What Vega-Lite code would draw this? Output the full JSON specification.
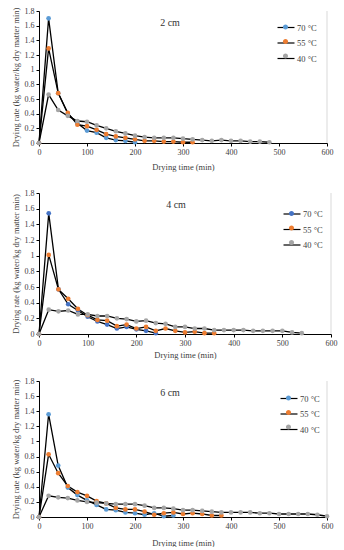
{
  "$schema": "https://vega.github.io/schema/vega-lite/v6.json",
  "padding": {"left": 10, "top": 7, "right": 5, "bottom": 0},
  "background": "white",
  "spacing": 18,
  "config": {
    "font": "Liberation Serif",
    "view": {"stroke": null},
    "axis": {
      "grid": false, "domainColor": "#000000", "tickColor": "#000000", "tickSize": 3,
      "labelFont": "Liberation Serif", "titleFont": "Liberation Serif",
      "labelFontSize": 8, "titleFontSize": 8.5, "labelColor": "#404040", "titleColor": "#404040",
      "titleFontWeight": "normal", "labelPadding": 2, "labelOverlap": false, "labelFlush": false
    },
    "axisY": {"tickCount": 10, "labelOverlap": false},
    "legend": {
      "orient": "none", "title": null, "padding": 0,
      "labelFont": "Liberation Serif", "labelFontSize": 8.5, "labelColor": "#404040",
      "symbolSize": 72, "labelOffset": 6, "rowPadding": 5.5,
      "symbolOpacity": 1
    },
    "title": {"font": "Liberation Serif", "fontSize": 10, "fontWeight": "normal", "color": "#333333", "frame": "group"}
  },
  "datasets": {
    "d": [
      {"p":"2 cm","s":"70 °C","t":0,"r":0},{"p":"2 cm","s":"70 °C","t":20,"r":1.70},{"p":"2 cm","s":"70 °C","t":40,"r":0.68},{"p":"2 cm","s":"70 °C","t":60,"r":0.40},{"p":"2 cm","s":"70 °C","t":80,"r":0.27},{"p":"2 cm","s":"70 °C","t":100,"r":0.17},{"p":"2 cm","s":"70 °C","t":120,"r":0.14},{"p":"2 cm","s":"70 °C","t":140,"r":0.07},{"p":"2 cm","s":"70 °C","t":160,"r":0.04},{"p":"2 cm","s":"70 °C","t":180,"r":0.03},{"p":"2 cm","s":"70 °C","t":200,"r":0.01},
      {"p":"2 cm","s":"55 °C","t":0,"r":0},{"p":"2 cm","s":"55 °C","t":20,"r":1.29},{"p":"2 cm","s":"55 °C","t":40,"r":0.68},{"p":"2 cm","s":"55 °C","t":60,"r":0.41},{"p":"2 cm","s":"55 °C","t":80,"r":0.25},{"p":"2 cm","s":"55 °C","t":100,"r":0.23},{"p":"2 cm","s":"55 °C","t":120,"r":0.18},{"p":"2 cm","s":"55 °C","t":140,"r":0.12},{"p":"2 cm","s":"55 °C","t":160,"r":0.09},{"p":"2 cm","s":"55 °C","t":180,"r":0.07},{"p":"2 cm","s":"55 °C","t":200,"r":0.05},{"p":"2 cm","s":"55 °C","t":220,"r":0.03},{"p":"2 cm","s":"55 °C","t":240,"r":0.03},{"p":"2 cm","s":"55 °C","t":260,"r":0.02},{"p":"2 cm","s":"55 °C","t":280,"r":0.02},{"p":"2 cm","s":"55 °C","t":300,"r":0.01},{"p":"2 cm","s":"55 °C","t":320,"r":0.01},
      {"p":"2 cm","s":"40 °C","t":0,"r":0},{"p":"2 cm","s":"40 °C","t":20,"r":0.66},{"p":"2 cm","s":"40 °C","t":40,"r":0.45},{"p":"2 cm","s":"40 °C","t":60,"r":0.37},{"p":"2 cm","s":"40 °C","t":80,"r":0.30},{"p":"2 cm","s":"40 °C","t":100,"r":0.29},{"p":"2 cm","s":"40 °C","t":120,"r":0.24},{"p":"2 cm","s":"40 °C","t":140,"r":0.20},{"p":"2 cm","s":"40 °C","t":160,"r":0.16},{"p":"2 cm","s":"40 °C","t":180,"r":0.13},{"p":"2 cm","s":"40 °C","t":200,"r":0.10},{"p":"2 cm","s":"40 °C","t":220,"r":0.08},{"p":"2 cm","s":"40 °C","t":240,"r":0.07},{"p":"2 cm","s":"40 °C","t":260,"r":0.07},{"p":"2 cm","s":"40 °C","t":280,"r":0.07},{"p":"2 cm","s":"40 °C","t":300,"r":0.06},{"p":"2 cm","s":"40 °C","t":320,"r":0.05},{"p":"2 cm","s":"40 °C","t":340,"r":0.04},{"p":"2 cm","s":"40 °C","t":360,"r":0.03},{"p":"2 cm","s":"40 °C","t":380,"r":0.04},{"p":"2 cm","s":"40 °C","t":400,"r":0.03},{"p":"2 cm","s":"40 °C","t":420,"r":0.03},{"p":"2 cm","s":"40 °C","t":440,"r":0.02},{"p":"2 cm","s":"40 °C","t":460,"r":0.02},{"p":"2 cm","s":"40 °C","t":480,"r":0.01},

      {"p":"4 cm","s":"70 °C","t":0,"r":0},{"p":"4 cm","s":"70 °C","t":20,"r":1.54},{"p":"4 cm","s":"70 °C","t":40,"r":0.57},{"p":"4 cm","s":"70 °C","t":60,"r":0.38},{"p":"4 cm","s":"70 °C","t":80,"r":0.30},{"p":"4 cm","s":"70 °C","t":100,"r":0.22},{"p":"4 cm","s":"70 °C","t":120,"r":0.16},{"p":"4 cm","s":"70 °C","t":140,"r":0.12},{"p":"4 cm","s":"70 °C","t":160,"r":0.07},{"p":"4 cm","s":"70 °C","t":180,"r":0.09},{"p":"4 cm","s":"70 °C","t":200,"r":0.06},{"p":"4 cm","s":"70 °C","t":220,"r":0.04},{"p":"4 cm","s":"70 °C","t":240,"r":0.01},
      {"p":"4 cm","s":"55 °C","t":0,"r":0},{"p":"4 cm","s":"55 °C","t":20,"r":1.01},{"p":"4 cm","s":"55 °C","t":40,"r":0.57},{"p":"4 cm","s":"55 °C","t":60,"r":0.45},{"p":"4 cm","s":"55 °C","t":80,"r":0.32},{"p":"4 cm","s":"55 °C","t":100,"r":0.24},{"p":"4 cm","s":"55 °C","t":120,"r":0.18},{"p":"4 cm","s":"55 °C","t":140,"r":0.17},{"p":"4 cm","s":"55 °C","t":160,"r":0.10},{"p":"4 cm","s":"55 °C","t":180,"r":0.12},{"p":"4 cm","s":"55 °C","t":200,"r":0.07},{"p":"4 cm","s":"55 °C","t":220,"r":0.09},{"p":"4 cm","s":"55 °C","t":240,"r":0.04},{"p":"4 cm","s":"55 °C","t":260,"r":0.07},{"p":"4 cm","s":"55 °C","t":280,"r":0.04},{"p":"4 cm","s":"55 °C","t":300,"r":0.02},{"p":"4 cm","s":"55 °C","t":320,"r":0.03},{"p":"4 cm","s":"55 °C","t":340,"r":0.01},{"p":"4 cm","s":"55 °C","t":360,"r":0.01},
      {"p":"4 cm","s":"40 °C","t":0,"r":0},{"p":"4 cm","s":"40 °C","t":20,"r":0.31},{"p":"4 cm","s":"40 °C","t":40,"r":0.29},{"p":"4 cm","s":"40 °C","t":60,"r":0.30},{"p":"4 cm","s":"40 °C","t":80,"r":0.25},{"p":"4 cm","s":"40 °C","t":100,"r":0.25},{"p":"4 cm","s":"40 °C","t":120,"r":0.23},{"p":"4 cm","s":"40 °C","t":140,"r":0.23},{"p":"4 cm","s":"40 °C","t":160,"r":0.20},{"p":"4 cm","s":"40 °C","t":180,"r":0.19},{"p":"4 cm","s":"40 °C","t":200,"r":0.16},{"p":"4 cm","s":"40 °C","t":220,"r":0.17},{"p":"4 cm","s":"40 °C","t":240,"r":0.14},{"p":"4 cm","s":"40 °C","t":260,"r":0.13},{"p":"4 cm","s":"40 °C","t":280,"r":0.09},{"p":"4 cm","s":"40 °C","t":300,"r":0.09},{"p":"4 cm","s":"40 °C","t":320,"r":0.07},{"p":"4 cm","s":"40 °C","t":340,"r":0.07},{"p":"4 cm","s":"40 °C","t":360,"r":0.05},{"p":"4 cm","s":"40 °C","t":380,"r":0.05},{"p":"4 cm","s":"40 °C","t":400,"r":0.05},{"p":"4 cm","s":"40 °C","t":420,"r":0.05},{"p":"4 cm","s":"40 °C","t":440,"r":0.04},{"p":"4 cm","s":"40 °C","t":460,"r":0.04},{"p":"4 cm","s":"40 °C","t":480,"r":0.04},{"p":"4 cm","s":"40 °C","t":500,"r":0.04},{"p":"4 cm","s":"40 °C","t":520,"r":0.02},{"p":"4 cm","s":"40 °C","t":540,"r":0.01},

      {"p":"6 cm","s":"70 °C","t":0,"r":0},{"p":"6 cm","s":"70 °C","t":20,"r":1.36},{"p":"6 cm","s":"70 °C","t":40,"r":0.68},{"p":"6 cm","s":"70 °C","t":60,"r":0.39},{"p":"6 cm","s":"70 °C","t":80,"r":0.29},{"p":"6 cm","s":"70 °C","t":100,"r":0.22},{"p":"6 cm","s":"70 °C","t":120,"r":0.16},{"p":"6 cm","s":"70 °C","t":140,"r":0.10},{"p":"6 cm","s":"70 °C","t":160,"r":0.09},{"p":"6 cm","s":"70 °C","t":180,"r":0.06},{"p":"6 cm","s":"70 °C","t":200,"r":0.05},{"p":"6 cm","s":"70 °C","t":220,"r":0.03},{"p":"6 cm","s":"70 °C","t":240,"r":0.05},{"p":"6 cm","s":"70 °C","t":260,"r":0.01},{"p":"6 cm","s":"70 °C","t":280,"r":0.02},
      {"p":"6 cm","s":"55 °C","t":0,"r":0},{"p":"6 cm","s":"55 °C","t":20,"r":0.83},{"p":"6 cm","s":"55 °C","t":40,"r":0.58},{"p":"6 cm","s":"55 °C","t":60,"r":0.41},{"p":"6 cm","s":"55 °C","t":80,"r":0.33},{"p":"6 cm","s":"55 °C","t":100,"r":0.28},{"p":"6 cm","s":"55 °C","t":120,"r":0.21},{"p":"6 cm","s":"55 °C","t":140,"r":0.18},{"p":"6 cm","s":"55 °C","t":160,"r":0.12},{"p":"6 cm","s":"55 °C","t":180,"r":0.10},{"p":"6 cm","s":"55 °C","t":200,"r":0.10},{"p":"6 cm","s":"55 °C","t":220,"r":0.07},{"p":"6 cm","s":"55 °C","t":240,"r":0.03},{"p":"6 cm","s":"55 °C","t":260,"r":0.05},{"p":"6 cm","s":"55 °C","t":280,"r":0.06},{"p":"6 cm","s":"55 °C","t":300,"r":0.04},{"p":"6 cm","s":"55 °C","t":320,"r":0.05},{"p":"6 cm","s":"55 °C","t":340,"r":0.04},{"p":"6 cm","s":"55 °C","t":360,"r":0.02},{"p":"6 cm","s":"55 °C","t":380,"r":0.02},
      {"p":"6 cm","s":"40 °C","t":0,"r":0},{"p":"6 cm","s":"40 °C","t":20,"r":0.28},{"p":"6 cm","s":"40 °C","t":40,"r":0.26},{"p":"6 cm","s":"40 °C","t":60,"r":0.25},{"p":"6 cm","s":"40 °C","t":80,"r":0.22},{"p":"6 cm","s":"40 °C","t":100,"r":0.20},{"p":"6 cm","s":"40 °C","t":120,"r":0.19},{"p":"6 cm","s":"40 °C","t":140,"r":0.18},{"p":"6 cm","s":"40 °C","t":160,"r":0.17},{"p":"6 cm","s":"40 °C","t":180,"r":0.17},{"p":"6 cm","s":"40 °C","t":200,"r":0.17},{"p":"6 cm","s":"40 °C","t":220,"r":0.15},{"p":"6 cm","s":"40 °C","t":240,"r":0.12},{"p":"6 cm","s":"40 °C","t":260,"r":0.12},{"p":"6 cm","s":"40 °C","t":280,"r":0.11},{"p":"6 cm","s":"40 °C","t":300,"r":0.09},{"p":"6 cm","s":"40 °C","t":320,"r":0.09},{"p":"6 cm","s":"40 °C","t":340,"r":0.08},{"p":"6 cm","s":"40 °C","t":360,"r":0.07},{"p":"6 cm","s":"40 °C","t":380,"r":0.06},{"p":"6 cm","s":"40 °C","t":400,"r":0.06},{"p":"6 cm","s":"40 °C","t":420,"r":0.06},{"p":"6 cm","s":"40 °C","t":440,"r":0.06},{"p":"6 cm","s":"40 °C","t":460,"r":0.05},{"p":"6 cm","s":"40 °C","t":480,"r":0.05},{"p":"6 cm","s":"40 °C","t":500,"r":0.04},{"p":"6 cm","s":"40 °C","t":520,"r":0.04},{"p":"6 cm","s":"40 °C","t":540,"r":0.04},{"p":"6 cm","s":"40 °C","t":560,"r":0.04},{"p":"6 cm","s":"40 °C","t":580,"r":0.03},{"p":"6 cm","s":"40 °C","t":600,"r":0.01}
    ]
  },
  "resolve": {"scale": {"x": "independent", "y": "independent", "fill": "independent", "stroke": "independent"}, "legend": {"fill": "independent", "stroke": "independent"}},
  "vconcat": [
    {
      "width": 288, "height": 132,
      "title": {"text": "2 cm", "orient": "top", "anchor": "middle", "offset": -21, "dx": -13},
      "resolve": {"scale": {"fill": "independent", "stroke": "independent"}},
      "layer": [
        {"data": {"name": "d"}, "transform": [{"filter": "datum.p === '2 cm'"}],
         "mark": {"type": "line", "strokeWidth": 1.3},
         "encoding": {
           "x": {"field": "t", "type": "quantitative", "scale": {"domain": [0, 600], "nice": false}, "axis": {"tickCount": 6, "title": "Drying time (min)", "titlePadding": 6, "labelOverlap": false}},
           "y": {"field": "r", "type": "quantitative", "scale": {"domain": [0, 1.8], "nice": false}, "axis": {"tickCount": 10, "format": ".1~f", "title": "Drying rate (kg water/kg dry matter min)", "titlePadding": 4, "labelOverlap": false}},
           "stroke": {"field": "s", "type": "nominal", "scale": {"domain": ["70 °C", "55 °C", "40 °C"], "range": ["#000000", "#000000", "#000000"]},
             "legend": {"legendX": 242, "legendY": 11.5, "symbolType": "M-2,0H2", "symbolStrokeWidth": 1.2}},
           "order": {"field": "t"}
         }},
        {"data": {"values": [{"x": 600}]}, "mark": {"type": "rule", "color": "#d9d9d9", "strokeWidth": 1},
         "encoding": {"x": {"field": "x", "type": "quantitative"}}},
        {"data": {"name": "d"}, "transform": [{"filter": "datum.p === '2 cm'"}],
         "mark": {"type": "point", "filled": true, "size": 22, "opacity": 1},
         "encoding": {
           "x": {"field": "t", "type": "quantitative"},
           "y": {"field": "r", "type": "quantitative"},
           "fill": {"field": "s", "type": "nominal", "scale": {"domain": ["70 °C", "55 °C", "40 °C"], "range": ["#5B9BD5", "#ED7D31", "#A5A5A5"]},
             "legend": {"legendX": 242, "legendY": 11.5, "symbolType": "M0.6,0A0.6,0.6,0,1,1,-0.6,0A0.6,0.6,0,1,1,0.6,0Z", "symbolStrokeWidth": 0, "labelExpr": "''"}}
         }}
      ]
    },
    {
      "width": 292, "height": 141,
      "title": {"text": "4 cm", "orient": "top", "anchor": "middle", "offset": -21, "dx": -9},
      "resolve": {"scale": {"fill": "independent", "stroke": "independent"}},
      "layer": [
        {"data": {"name": "d"}, "transform": [{"filter": "datum.p === '4 cm'"}],
         "mark": {"type": "line", "strokeWidth": 1.3},
         "encoding": {
           "x": {"field": "t", "type": "quantitative", "scale": {"domain": [0, 600], "nice": false}, "axis": {"tickCount": 6, "title": "Drying time (min)", "titlePadding": 3, "labelOverlap": false}},
           "y": {"field": "r", "type": "quantitative", "scale": {"domain": [0, 1.8], "nice": false}, "axis": {"tickCount": 10, "format": ".1~f", "title": "Drying rate (kg water/kg dry matter min)", "titlePadding": 4, "labelOverlap": false}},
           "stroke": {"field": "s", "type": "nominal", "scale": {"domain": ["70 °C", "55 °C", "40 °C"], "range": ["#000000", "#000000", "#000000"]},
             "legend": {"legendX": 248, "legendY": 16, "symbolType": "M-2,0H2", "symbolStrokeWidth": 1.2}},
           "order": {"field": "t"}
         }},
        {"data": {"values": [{"x": 600}]}, "mark": {"type": "rule", "color": "#d9d9d9", "strokeWidth": 1},
         "encoding": {"x": {"field": "x", "type": "quantitative"}}},
        {"data": {"name": "d"}, "transform": [{"filter": "datum.p === '4 cm'"}],
         "mark": {"type": "point", "filled": true, "size": 22, "opacity": 1},
         "encoding": {
           "x": {"field": "t", "type": "quantitative"},
           "y": {"field": "r", "type": "quantitative"},
           "fill": {"field": "s", "type": "nominal", "scale": {"domain": ["70 °C", "55 °C", "40 °C"], "range": ["#4472C4", "#ED7D31", "#A5A5A5"]},
             "legend": {"legendX": 248, "legendY": 16, "symbolType": "M0.6,0A0.6,0.6,0,1,1,-0.6,0A0.6,0.6,0,1,1,0.6,0Z", "symbolStrokeWidth": 0, "labelExpr": "''"}}
         }}
      ]
    },
    {
      "width": 288, "height": 136,
      "title": {"text": "6 cm", "orient": "top", "anchor": "middle", "offset": -21, "dx": -13},
      "resolve": {"scale": {"fill": "independent", "stroke": "independent"}},
      "layer": [
        {"data": {"name": "d"}, "transform": [{"filter": "datum.p === '6 cm'"}],
         "mark": {"type": "line", "strokeWidth": 1.3},
         "encoding": {
           "x": {"field": "t", "type": "quantitative", "scale": {"domain": [0, 600], "nice": false}, "axis": {"tickCount": 6, "title": "Drying time (min)", "titlePadding": 8, "labelOverlap": false}},
           "y": {"field": "r", "type": "quantitative", "scale": {"domain": [0, 1.8], "nice": false}, "axis": {"tickCount": 10, "format": ".1~f", "title": "Drying rate (kg water/kg dry matter min)", "titlePadding": 4, "labelOverlap": false}},
           "stroke": {"field": "s", "type": "nominal", "scale": {"domain": ["70 °C", "55 °C", "40 °C"], "range": ["#000000", "#000000", "#000000"]},
             "legend": {"legendX": 245, "legendY": 12.5, "symbolType": "M-2,0H2", "symbolStrokeWidth": 1.2}},
           "order": {"field": "t"}
         }},
        {"data": {"values": [{"x": 600}]}, "mark": {"type": "rule", "color": "#d9d9d9", "strokeWidth": 1},
         "encoding": {"x": {"field": "x", "type": "quantitative"}}},
        {"data": {"name": "d"}, "transform": [{"filter": "datum.p === '6 cm'"}],
         "mark": {"type": "point", "filled": true, "size": 22, "opacity": 1},
         "encoding": {
           "x": {"field": "t", "type": "quantitative"},
           "y": {"field": "r", "type": "quantitative"},
           "fill": {"field": "s", "type": "nominal", "scale": {"domain": ["70 °C", "55 °C", "40 °C"], "range": ["#5B9BD5", "#ED7D31", "#A5A5A5"]},
             "legend": {"legendX": 245, "legendY": 12.5, "symbolType": "M0.6,0A0.6,0.6,0,1,1,-0.6,0A0.6,0.6,0,1,1,0.6,0Z", "symbolStrokeWidth": 0, "labelExpr": "''"}}
         }}
      ]
    }
  ]
}
